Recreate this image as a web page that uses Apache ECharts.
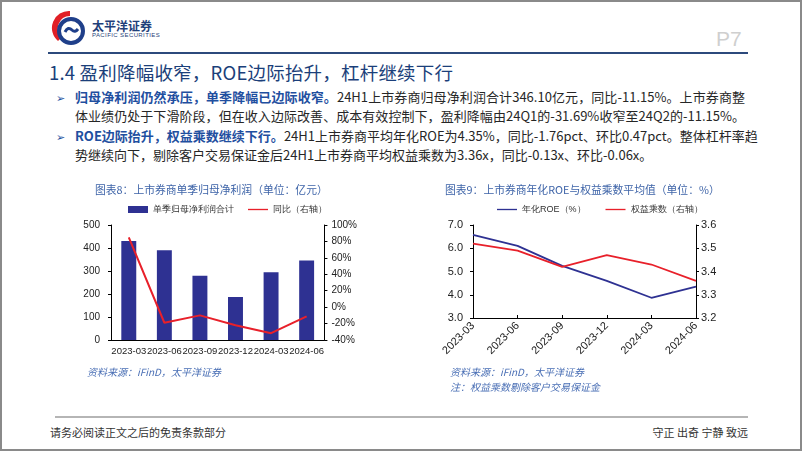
<!DOCTYPE html>
<html>
<head>
<meta charset="utf-8">
<script src="https://cdn.jsdelivr.net/npm/echarts@6/dist/echarts.min.js"></script>
<style>
  html, body { margin: 0; padding: 0; background: #fff; }
  body { width: 802px; height: 451px; position: relative; overflow: hidden;
         font-family: "Noto Sans CJK SC", "Noto Sans", sans-serif; }
  .frame { position: absolute; left: 0; top: 0; width: 802px; height: 451px;
           box-sizing: border-box; border: 2px solid #8a8a8a; }
  .abs { position: absolute; white-space: nowrap; }
  #logoName { left: 92px; top: 17px; font-size: 12px; font-weight: 700; color: #1f3f7a; }
  #logoEn { left: 92px; top: 32px; font-size: 6px; color: #1f3f7a; letter-spacing: 0.4px; font-family: "Liberation Sans", sans-serif; }
  #pageNo { left: 716px; top: 27px; font-size: 21px; color: #cfcfcf; font-family: "Liberation Sans", sans-serif; }
  .hline { position: absolute; left: 48px; top: 52px; width: 700px; height: 2px; background: #2c4a7c; }
  #heading { left: 49px; top: 59px; font-size: 18.5px; color: #1b3f7a; letter-spacing: 0.2px; }
  .arrow { position: absolute; left: 56px; font-size: 11px; color: #1f4fa0; }
  .bl { position: absolute; left: 75px; width: 670px; font-size: 13px; color: #262626; line-height: 18px;
        white-space: nowrap; text-align: justify; text-align-last: justify; }
  .bl.last { text-align-last: left; }
  .bl b { color: #1f4fa0; font-weight: 700; }
  .src { font-size: 10px; font-style: italic; color: #4a6fb5; }
  #chart1 { position: absolute; left: 80px; top: 175px; width: 280px; height: 190px; }
  #chart2 { position: absolute; left: 430px; top: 175px; width: 300px; height: 195px; }
  .fline { position: absolute; left: 55px; top: 416px; width: 693px; height: 2px; background: #b5b5b5; }
  .foot { font-size: 11px; color: #333; top: 424px; }
</style>
</head>
<body>
<div class="frame"></div>

<svg class="abs" style="left:50px;top:8px" width="40" height="40" viewBox="0 0 40 40">
  <path d="M20 3 A17 17 0 0 0 8 33 L12 29 A12 12 0 0 1 20 8 Z" fill="#e01f26"/>
  <circle cx="21" cy="23" r="12" fill="none" stroke="#1f3f8a" stroke-width="4"/>
  <path d="M15 24 q3 -6 7 -2 q3 3 6 -1" fill="none" stroke="#1f3f8a" stroke-width="3"/>
</svg>
<div class="abs" id="logoName">太平洋证券</div>
<div class="abs" id="logoEn">PACIFIC SECURITIES</div>
<div class="abs" id="pageNo">P7</div>
<div class="hline"></div>

<div class="abs" id="heading">1.4 盈利降幅收窄，ROE边际抬升，杠杆继续下行</div>

<div class="arrow" style="top:89px">➢</div>
<div class="bl" style="top:88px"><b>归母净利润仍然承压，单季降幅已边际收窄。</b>24H1上市券商归母净利润合计346.10亿元，同比-11.15%。上市券商整</div>
<div class="bl" style="top:107px">体业绩仍处于下滑阶段，但在收入边际改善、成本有效控制下，盈利降幅由24Q1的-31.69%收窄至24Q2的-11.15%。</div>
<div class="arrow" style="top:128px">➢</div>
<div class="bl" style="top:127px"><b>ROE边际抬升，权益乘数继续下行。</b>24H1上市券商平均年化ROE为4.35%，同比-1.76pct、环比0.47pct。整体杠杆率趋</div>
<div class="bl last" style="top:146px">势继续向下，剔除客户交易保证金后24H1上市券商平均权益乘数为3.36x，同比-0.13x、环比-0.06x。</div>

<div id="chart1"></div>
<div id="chart2"></div>

<div class="abs src" style="left:87px;top:364px">资料来源：iFinD，太平洋证券</div>
<div class="abs src" style="left:450px;top:364px">资料来源：iFinD，太平洋证券</div>
<div class="abs src" style="left:450px;top:379px">注：权益乘数剔除客户交易保证金</div>

<div class="fline"></div>
<div class="abs foot" style="left:50px">请务必阅读正文之后的免责条款部分</div>
<div class="abs foot" style="left:640px;width:108px;text-align:right">守正 出奇 宁静 致远</div>

<script>
// 数据
const quarters = ['2023-03', '2023-06', '2023-09', '2023-12', '2024-03', '2024-06'];
const netProfit = [430, 390, 279, 187, 295, 346];          // 单季归母净利润合计（亿元）
const netProfitYoy = [85, -19, -10, -22, -31.69, -11.15];  // 同比（%）
const roe = [6.57, 6.1, 5.24, 4.6, 3.87, 4.35];            // 年化ROE（%）
const equityMultiplier = [3.52, 3.49, 3.42, 3.47, 3.43, 3.36];

const barBlue = '#2e3192';
const lineRed = '#e8202a';
const lineIcon = 'path://M0,0 L30,0 L30,2 L0,2 Z';
const smallTxt = { color: '#222', fontSize: 10, fontFamily: 'Liberation Sans' };
const axisTxt = { color: '#222', fontSize: 11, fontFamily: 'Liberation Sans' };

function titleOf(text) {
  return {
    text: text, left: 10, top: 5,
    textStyle: { fontSize: 10.8, fontWeight: 'normal', color: '#3e64a8', fontFamily: 'Noto Sans CJK SC' }
  };
}

function initChart1() {
  const c = echarts.init(document.getElementById('chart1'));
  c.setOption({
    animation: false,
    title: titleOf('图表8：上市券商单季归母净利润（单位：亿元）'),
    legend: {
      top: 25, left: 43, width: 260, itemGap: 14, itemWidth: 20, itemHeight: 7,
      textStyle: { fontSize: 9, color: '#333' },
      data: [{ name: '单季归母净利润合计', icon: 'rect' }, { name: '同比（右轴）', icon: lineIcon }]
    },
    grid: { left: 31, right: 31, top: 50, bottom: 25 },
    xAxis: {
      type: 'category', data: quarters,
      axisLine: { lineStyle: { color: '#000' } },
      axisTick: { show: false },
      axisLabel: Object.assign({}, smallTxt, { margin: 6, interval: 0, fontSize: 9.5 })
    },
    yAxis: [{
      type: 'value', min: 0, max: 500, interval: 100,
      axisLine: { show: true, lineStyle: { color: '#000' } },
      axisTick: { show: true, length: 3 },
      splitLine: { show: false },
      axisLabel: Object.assign({ margin: 11 }, smallTxt)
    }, {
      type: 'value', min: -40, max: 100, interval: 20,
      axisLine: { show: true, lineStyle: { color: '#000' } },
      axisTick: { show: true, length: 3 },
      splitLine: { show: false },
      axisLabel: Object.assign({ margin: 7, formatter: '{value}%' }, smallTxt)
    }],
    series: [{
      name: '单季归母净利润合计', type: 'bar', data: netProfit,
      barWidth: '42%', itemStyle: { color: barBlue }
    }, {
      name: '同比（右轴）', type: 'line', yAxisIndex: 1, data: netProfitYoy,
      symbol: 'none', lineStyle: { color: lineRed, width: 2 }, itemStyle: { color: lineRed }
    }]
  });
}

function initChart2() {
  const c = echarts.init(document.getElementById('chart2'));
  c.setOption({
    animation: false,
    title: titleOf('图表9：上市券商年化ROE与权益乘数平均值（单位：%）'),
    legend: {
      top: 25, left: 62, width: 230, itemGap: 20, itemWidth: 20, itemHeight: 7,
      textStyle: { fontSize: 9, color: '#333' },
      data: [{ name: '年化ROE（%）', icon: lineIcon }, { name: '权益乘数（右轴）', icon: lineIcon }]
    },
    grid: { left: 43, right: 34, top: 50, bottom: 52 },
    xAxis: {
      type: 'category', data: quarters, boundaryGap: false,
      axisLine: { lineStyle: { color: '#000' } },
      axisTick: { show: true, inside: true, length: 3, lineStyle: { color: '#000' } },
      axisLabel: Object.assign({}, axisTxt, { rotate: 45, margin: 6, interval: 0 })
    },
    yAxis: [{
      type: 'value', min: 3, max: 7, interval: 1,
      axisLine: { show: true, lineStyle: { color: '#000' } },
      axisTick: { show: true, length: 3 },
      splitLine: { show: false },
      axisLabel: Object.assign({ margin: 10, formatter: v => v.toFixed(1) }, axisTxt)
    }, {
      type: 'value', min: 3.2, max: 3.6, interval: 0.1,
      axisLine: { show: true, lineStyle: { color: '#000' } },
      axisTick: { show: true, length: 3 },
      splitLine: { show: false },
      axisLabel: Object.assign({ margin: 5, formatter: v => v.toFixed(1) }, axisTxt)
    }],
    series: [{
      name: '年化ROE（%）', type: 'line', data: roe,
      symbol: 'none', lineStyle: { color: barBlue, width: 1.8 }, itemStyle: { color: barBlue }
    }, {
      name: '权益乘数（右轴）', type: 'line', yAxisIndex: 1, data: equityMultiplier,
      symbol: 'none', lineStyle: { color: lineRed, width: 1.8 }, itemStyle: { color: lineRed }
    }]
  });
}

initChart1();
initChart2();
</script>
</body>
</html>
